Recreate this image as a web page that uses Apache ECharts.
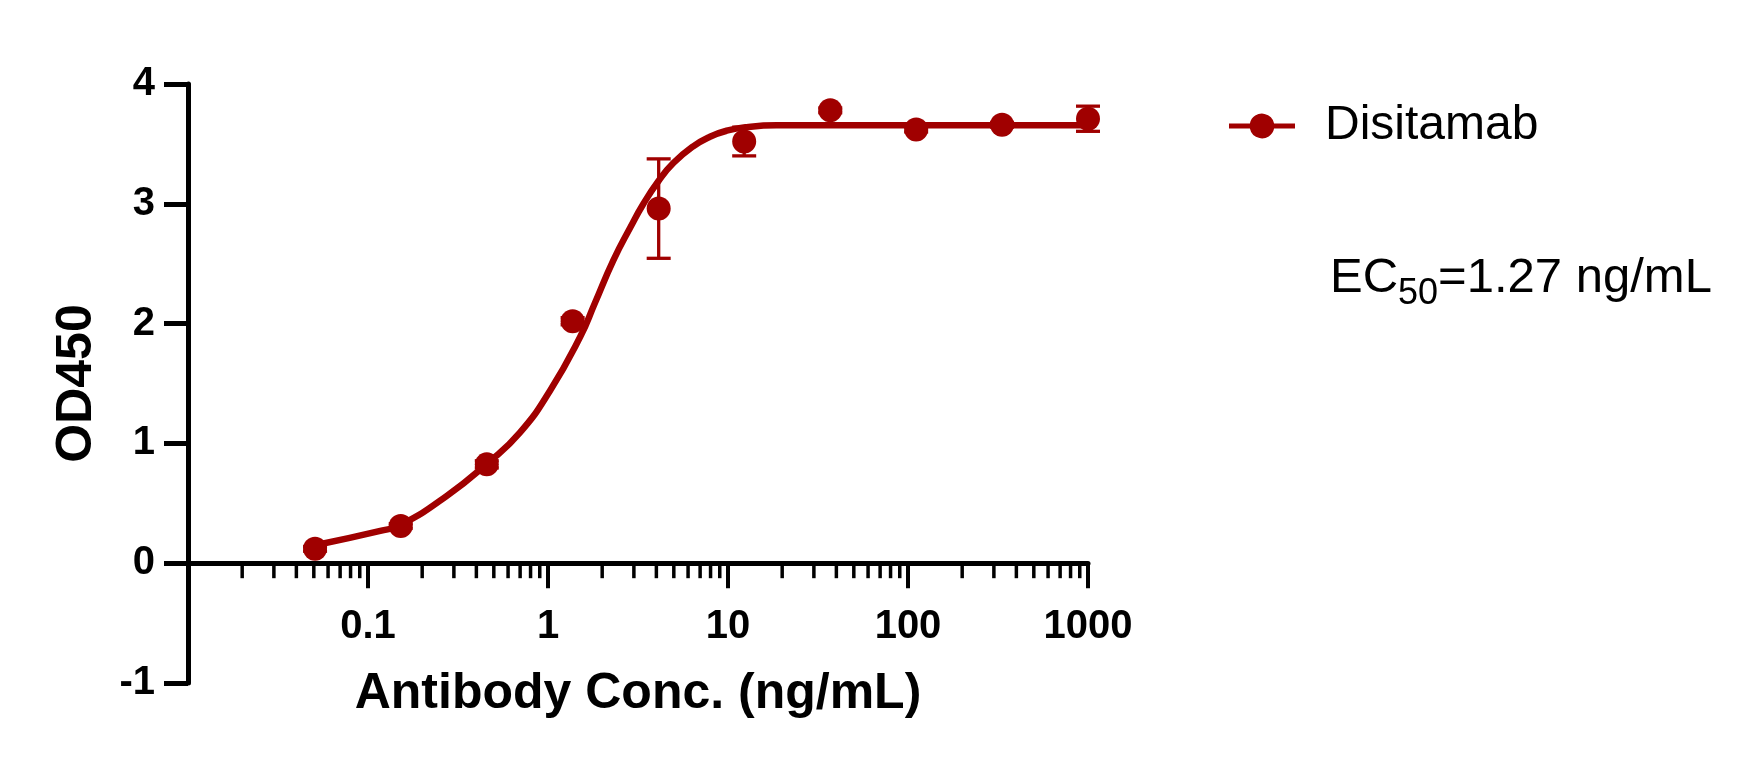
<!DOCTYPE html>
<html>
<head>
<meta charset="utf-8">
<script src="https://cdn.jsdelivr.net/npm/echarts@6/dist/echarts.min.js"></script>
<style>
  html, body { margin: 0; padding: 0; background: #fff; }
  #chart { width: 1758px; height: 765px; }
</style>
</head>
<body>
<div id="chart"></div>
<script>
// Measured points (mean and SD), 3-fold dilution series
const concentrations = [0.0508, 0.152, 0.457, 1.37, 4.12, 12.3, 37.0, 111, 333, 1000]
const od450Mean = [0.12, 0.31, 0.825, 2.02, 2.96, 3.52, 3.78, 3.62, 3.66, 3.71]
const od450Sd = [0.02, 0.02, 0.03, 0.03, 0.415, 0.12, 0.02, 0.02, 0.02, 0.105]

// Fitted curve
const fitConc = [0.0508, 0.117, 0.152, 0.273, 0.466, 0.698, 1.026, 1.51, 1.82, 2.31, 2.86, 3.39, 4.11, 4.97, 6.41, 7.94, 9.83, 12.7, 18.6, 100, 1000]
const fitOd = [0.15, 0.27, 0.32, 0.56, 0.84, 1.09, 1.44, 1.89, 2.17, 2.53, 2.80, 3.00, 3.19, 3.34, 3.48, 3.56, 3.61, 3.64, 3.655, 3.655, 3.655]

const xTickLabels = ['0.1', '1', '10', '100', '1000']
const seriesName = 'Disitamab'
const ec50Text = '1.27 ng/mL'

const red = '#a00000'
const font = 'Liberation Sans, Arial, sans-serif'

// minor ticks at 2..9 of each decade
const minorTicks = []
for (let p = -2; p < 3; p++) {
  for (let k = 2; k < 10; k++) minorTicks.push(k * Math.pow(10, p))
}

// grid geometry: y runs -1..4, x axis sits on y = 0
const gridTop = 84
const gridBottom = 82
const yMin = -1
const yMax = 4
const xAxisOffset = -(765 - gridTop - gridBottom) / (yMax - yMin) * (0 - yMin)

// legend icon: a bar with a dot on it
const legendIcon = 'path://M0,9.5H20.26A12,12,0,0,1,43.74,9.5H64V14.5H43.74A12,12,0,0,1,20.26,14.5H0Z'

const chart = echarts.init(document.getElementById('chart'))

chart.setOption({
  backgroundColor: '#fff',
  animation: false,
  grid: { left: 188, right: 670, top: gridTop, bottom: gridBottom, outerBoundsMode: 'none', containLabel: false },
  legend: {
    data: [{ name: seriesName, icon: legendIcon }],
    left: 1224,
    top: 97,
    itemWidth: 66,
    itemHeight: 25,
    itemStyle: { color: red },
    textStyle: { fontFamily: font, fontSize: 48, color: '#000', padding: [0, 0, 0, 25] }
  },
  graphic: [{
    type: 'text',
    left: 1330,
    top: 254,
    style: {
      text: '{a|EC}{b|50}{a|=' + ec50Text + '}',
      rich: {
        a: { fontFamily: font, fontSize: 49, color: '#000', lineHeight: 68, verticalAlign: 'middle' },
        b: { fontFamily: font, fontSize: 36, color: '#000', lineHeight: 36, verticalAlign: 'bottom' }
      }
    }
  }],
  xAxis: {
    type: 'log',
    logBase: 10,
    min: 0.01,
    max: 1000,
    offset: xAxisOffset,
    name: 'Antibody Conc. (ng/mL)',
    nameLocation: 'middle',
    nameGap: 106,
    nameTextStyle: { fontFamily: font, fontSize: 50, fontWeight: 'bold', color: '#000' },
    axisLine: { onZero: false, lineStyle: { color: '#000', width: 5 } },
    axisTick: { length: 25, lineStyle: { color: '#000', width: 4 } },
    splitLine: { show: false },
    axisLabel: {
      margin: 44,
      fontFamily: font,
      fontSize: 40,
      fontWeight: 'bold',
      color: '#000',
      formatter: (v) => {
        const s = String(+v.toPrecision(6))
        return xTickLabels.includes(s) ? s : ''
      }
    }
  },
  yAxis: {
    type: 'value',
    min: yMin,
    max: yMax,
    interval: 1,
    name: 'OD450',
    nameLocation: 'middle',
    nameGap: 86,
    nameTextStyle: { fontFamily: font, fontSize: 50, fontWeight: 'bold', color: '#000' },
    axisLine: { show: true, onZero: false, lineStyle: { color: '#000', width: 5 } },
    axisTick: { show: true, length: 24, lineStyle: { color: '#000', width: 5 } },
    splitLine: { show: false },
    axisLabel: { margin: 33, fontFamily: font, fontSize: 40, fontWeight: 'bold', color: '#000' }
  },
  series: [
    {
      // minor ticks on the x axis
      type: 'custom',
      silent: true,
      clip: false,
      data: minorTicks.map(v => [v, 0]),
      renderItem: (params, api) => {
        const p = api.coord([api.value(0), 0])
        return {
          type: 'line',
          shape: { x1: p[0], y1: p[1], x2: p[0], y2: p[1] + 15 },
          style: { stroke: '#000', lineWidth: 3.5 }
        }
      }
    },
    {
      // error bars
      type: 'custom',
      silent: true,
      data: concentrations.map((c, i) => [c, od450Mean[i] - od450Sd[i], od450Mean[i] + od450Sd[i]]),
      renderItem: (params, api) => {
        const lo = api.coord([api.value(0), api.value(1)])
        const hi = api.coord([api.value(0), api.value(2)])
        const w = 12
        const st = { stroke: red, lineWidth: 3.3 }
        return {
          type: 'group',
          children: [
            { type: 'line', shape: { x1: lo[0], y1: lo[1], x2: hi[0], y2: hi[1] }, style: st },
            { type: 'line', shape: { x1: lo[0] - w, y1: lo[1], x2: lo[0] + w, y2: lo[1] }, style: st },
            { type: 'line', shape: { x1: hi[0] - w, y1: hi[1], x2: hi[0] + w, y2: hi[1] }, style: st }
          ]
        }
      }
    },
    {
      name: seriesName,
      type: 'line',
      smooth: 0.5,
      symbol: 'circle',
      symbolSize: 24,
      showSymbol: false,
      itemStyle: { color: red },
      lineStyle: { color: red, width: 6.5 },
      data: fitConc.map((c, i) => [c, fitOd[i]])
    },
    {
      name: seriesName,
      type: 'scatter',
      symbol: 'circle',
      symbolSize: 24,
      itemStyle: { color: red, opacity: 1 },
      data: concentrations.map((c, i) => [c, od450Mean[i]])
    }
  ]
})
</script>
</body>
</html>
